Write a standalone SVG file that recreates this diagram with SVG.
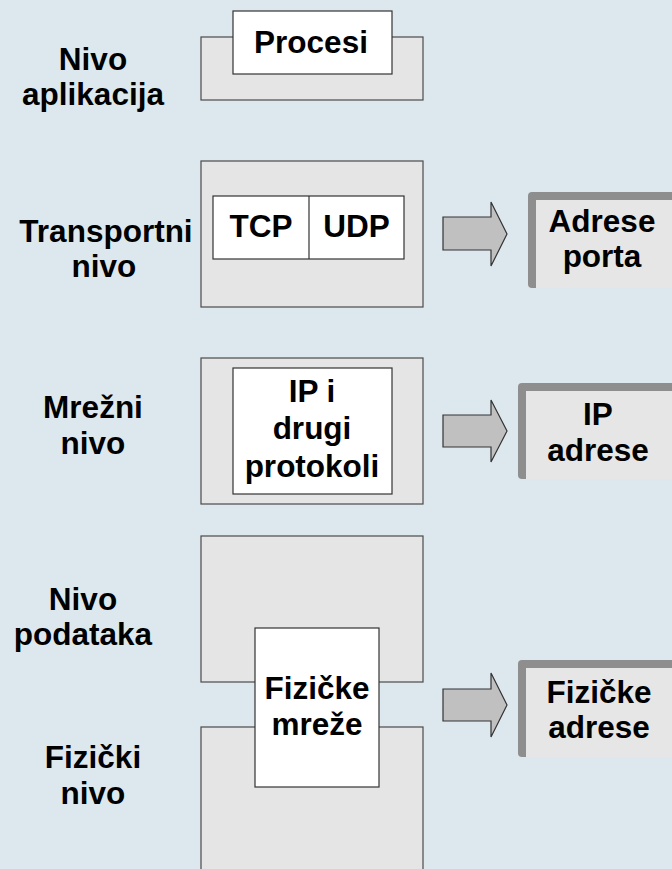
<svg xmlns="http://www.w3.org/2000/svg" width="672" height="869" viewBox="0 0 672 869">
  <style>
    .layer { fill: #e5e5e5; stroke: #4a4a4a; stroke-width: 1.2; }
    .inner { fill: #ffffff; stroke: #333333; stroke-width: 1.2; }
    .arrow { fill: #c0c0c0; stroke: #333333; stroke-width: 1.2; stroke-linejoin: miter; }
    .addr-frame { fill: #8e8e8e; }
    .addr-fill { fill: #e6e6e6; }
    text { font-family: "Liberation Sans", Arial, sans-serif; font-weight: bold; font-size: 31.5px; fill: #000000; text-anchor: middle; }
  </style>

  <rect width="672" height="869" fill="#dde8ee"/>

  <!-- layer labels -->
  <g id="labels">
    <text x="93" y="70">Nivo</text>
    <text x="93" y="105">aplikacija</text>
    <text x="106" y="242">Transportni</text>
    <text x="104" y="277">nivo</text>
    <text x="93" y="418">Mrežni</text>
    <text x="93" y="454">nivo</text>
    <text x="83" y="610">Nivo</text>
    <text x="83" y="645">podataka</text>
    <text x="93" y="768">Fizički</text>
    <text x="93" y="804">nivo</text>
  </g>

  <!-- application layer -->
  <g id="app-layer">
    <rect class="layer" x="201" y="37" width="222" height="63"/>
    <rect class="inner" x="233" y="11" width="159" height="63"/>
    <text x="311" y="53">Procesi</text>
  </g>

  <!-- transport layer -->
  <g id="transport-layer">
    <rect class="layer" x="201" y="161" width="222" height="146"/>
    <rect class="inner" x="213" y="196" width="191" height="63"/>
    <line x1="309" y1="196" x2="309" y2="259" stroke="#333333" stroke-width="1.2"/>
    <text x="261" y="237">TCP</text>
    <text x="356.5" y="237">UDP</text>
  </g>

  <!-- network layer -->
  <g id="network-layer">
    <rect class="layer" x="201" y="358" width="222" height="146"/>
    <rect class="inner" x="233" y="368" width="159" height="126"/>
    <text x="312" y="402">IP i</text>
    <text x="312" y="439">drugi</text>
    <text x="312" y="477">protokoli</text>
  </g>

  <!-- data link + physical layers -->
  <g id="link-layer">
    <rect class="layer" x="201" y="536" width="222" height="146"/>
  </g>
  <g id="physical-layer">
    <rect class="layer" x="201" y="727" width="222" height="160"/>
  </g>
  <g id="physical-networks">
    <rect class="inner" x="255" y="628" width="124" height="159"/>
    <text x="317" y="699">Fizičke</text>
    <text x="317" y="735">mreže</text>
  </g>

  <!-- arrows to addressing -->
  <g id="connectors">
    <polygon class="arrow" points="443,217 491,217 491,202 507,234 491,266 491,250 443,250"/>
    <polygon class="arrow" points="443,415 491,415 491,400 507,431 491,462 491,447 443,447"/>
    <polygon class="arrow" points="443,689 491,689 491,673 507,705 491,737 491,721 443,721"/>
  </g>

  <!-- addressing boxes -->
  <g id="port-addresses">
    <rect class="addr-frame" x="528" y="192" width="170" height="96" rx="4"/>
    <rect class="addr-fill" x="536" y="200" width="160" height="88"/>
    <text x="602" y="232">Adrese</text>
    <text x="602" y="267">porta</text>
  </g>
  <g id="ip-addresses">
    <rect class="addr-frame" x="518" y="383" width="180" height="96" rx="4"/>
    <rect class="addr-fill" x="526" y="391" width="170" height="88"/>
    <text x="598" y="425">IP</text>
    <text x="598" y="461">adrese</text>
  </g>
  <g id="physical-addresses">
    <rect class="addr-frame" x="518" y="660" width="180" height="97" rx="4"/>
    <rect class="addr-fill" x="526" y="668" width="170" height="89"/>
    <text x="599" y="703">Fizičke</text>
    <text x="599" y="738">adrese</text>
  </g>
</svg>
